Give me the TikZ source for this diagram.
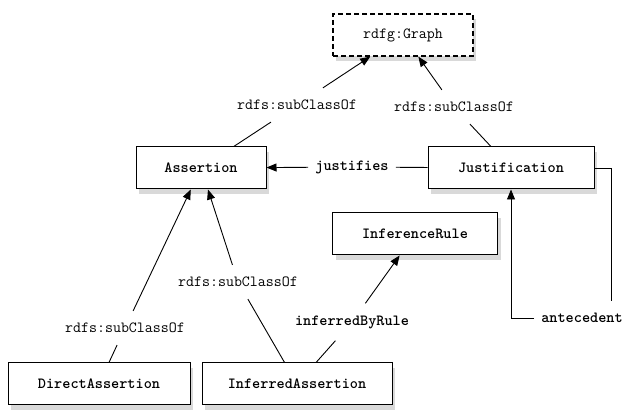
\documentclass[tikz,border=0pt]{standalone}
\usepackage{tikz}
\usetikzlibrary{arrows.meta,shadows}
\newcommand{\diagfont}{\ttfamily\fontsize{15.5}{17}\selectfont}
\tikzset{
  cls/.style={draw, line width=1pt, fill=white, minimum height=42pt,
    font=\diagfont\bfseries,
    drop shadow={shadow xshift=3pt, shadow yshift=-5pt, opacity=0.3}},
  clsdash/.style={cls, dashed, dash pattern=on 5pt off 3pt, line width=1.3pt,
    font=\diagfont},
  lbl/.style={inner xsep=7pt, inner ysep=12pt, font=\diagfont},
  lblb/.style={lbl, font=\diagfont\bfseries},
  rel/.style={line width=0.9pt},
  relto/.style={rel, -{Triangle[length=10pt,width=8pt]}}
}
\begin{document}
\begin{tikzpicture}[x=1pt,y=-1pt]
        \useasboundingbox (0,0) rectangle (624,411);
        % classes
        \node[clsdash, minimum width=140pt] (graph) at (403,35) {rdfg:Graph};
        \node[cls, minimum width=130pt] (assertion) at (201,168) {Assertion};
        \node[cls, minimum width=166pt] (justification) at (511,168) {Justification};
        \node[cls, minimum width=165pt] (rule) at (415,234) {InferenceRule};
        \node[cls, minimum width=182pt] (direct) at (99,384) {DirectAssertion};
        \node[cls, minimum width=190pt] (inferred) at (297,384) {InferredAssertion};
        % labels
        \node[lbl] (scA) at (297,105) {rdfs:subClassOf};
        \node[lbl] (scJ) at (454,107) {rdfs:subClassOf};
        \node[lbl] (scD) at (125,328) {rdfs:subClassOf};
        \node[lbl] (scI) at (238,282) {rdfs:subClassOf};
        \node[lblb] (justifies) at (352,167) {justifies};
        \node[lblb] (byrule) at (352,322) {inferredByRule};
        \node[lblb] (antecedent) at (582,318) {antecedent};
        % subclass
        \draw[rel] (assertion) -- (scA);
        \draw[relto] (scA) -- (graph);
        \draw[rel] (justification) -- (scJ);
        \draw[relto] (scJ) -- (graph);
        \draw[rel] (direct) -- (scD);
        \draw[relto] (scD) -- (assertion);
        \draw[rel] (inferred) -- (scI);
        \draw[relto] (scI) -- (assertion);
        % properties
        \draw[rel] (justification) -- (justifies);
        \draw[relto] (justifies) -- (assertion);
        \draw[rel] (inferred) -- (byrule);
        \draw[relto] (byrule) -- (rule);
        \draw[rel] (justification.east) -- ++(17,0) coordinate (anttop)
          -- (anttop |- antecedent.north);
        \draw[relto] (antecedent.west) -| (justification.south);
\end{tikzpicture}
\end{document}
